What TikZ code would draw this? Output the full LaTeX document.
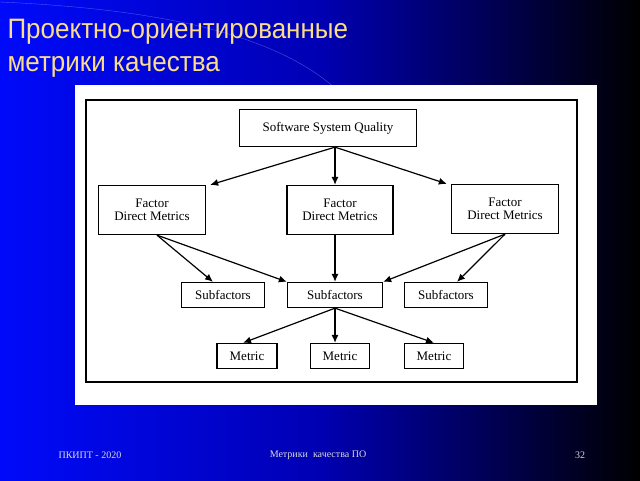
\documentclass[tikz,border=0pt]{standalone}
\usepackage{fontspec}
\setmainfont{Liberation Serif}
\newfontfamily\titlefont{Liberation Sans}
\usetikzlibrary{arrows.meta}
\definecolor{slideblue}{RGB}{0,10,250}
\definecolor{titleyellow}{RGB}{250,220,140}
\begin{document}
\begin{tikzpicture}[
  x=1pt, y=-1pt,
  box/.style={draw, line width=1.3pt, rectangle, inner sep=0pt, font=\fontsize{13}{13}\selectfont, align=center},
  arrow/.style={-{Latex[length=8pt,width=7pt]}, line width=1.2pt, color=black}
]
    % Slide background
    \useasboundingbox (0,0) rectangle (640,480);
    \shade[left color=slideblue, right color=black, middle color=blue!70!black] (0,0) rectangle (640,480);
    \draw[blue!40, opacity=0.5] (0,2) .. controls (180,10) and (280,40) .. (335,88);

    % Title
    \node (title) at (4,48) [anchor=west, align=left, font=\titlefont\fontsize{26}{33}\selectfont, text=titleyellow] {\scalebox{1}[1.08]{Проектно-ориентированные}\\\scalebox{1}[1.08]{метрики качества}};

    % Picture frame
    \fill[white] (75,85) rectangle (597,405);
    \draw[line width=2.5pt] (86,100) rectangle (577,382);

    % Top
    \node (ssq) at (328,128) [box, minimum width=177, minimum height=37] {Software System Quality};

    % Factors
    \node (fl) at (152,210) [box, minimum width=107, minimum height=49] {Factor\\Direct Metrics};
    \node (fm) at (340,210) [box, minimum width=106, minimum height=49] {Factor\\Direct Metrics};
    \node (fr) at (505,209) [box, minimum width=107, minimum height=49] {Factor\\Direct Metrics};

    % Subfactors
    \node (sl) at (223,295) [box, minimum width=83, minimum height=25] {Subfactors};
    \node (sm) at (335,295) [box, minimum width=95, minimum height=25] {Subfactors};
    \node (sr) at (446,295) [box, minimum width=83, minimum height=25] {Subfactors};

    % Metrics
    \node (ml) at (247,356) [box, minimum width=60, minimum height=25] {Metric};
    \node (mm) at (340,356) [box, minimum width=59, minimum height=25] {Metric};
    \node (mr) at (434,356) [box, minimum width=59, minimum height=25] {Metric};

    % Footer
    \node (place) at (55,455) [anchor=west, font=\fontsize{10}{10}\selectfont, text=gray!30] {ПКИПТ - 2020};
    \node (topic) at (318,455) [font=\fontsize{10}{10}\selectfont, text=gray!30] {Метрики \ качества ПО};
    \node (page) at (580,455) [font=\fontsize{10}{10}\selectfont, text=gray!30] {32};

    % Arrows
    \draw[arrow] ([xshift=7]ssq.south) -- ([xshift=4]fl.north east);
    \draw[arrow] ([xshift=7]ssq.south) -- ([xshift=-5]fm.north);
    \draw[arrow] ([xshift=7]ssq.south) -- ([xshift=-4]fr.north west);
    \draw[arrow] ([xshift=5]fl.south) -- ([xshift=-10]sl.north);
    \draw[arrow] ([xshift=5]fl.south) -- (sm.north west);
    \draw[arrow] ([xshift=-5]fm.south) -- (sm.north);
    \draw[arrow] (fr.south) -- (sm.north east);
    \draw[arrow] (fr.south) -- ([xshift=11]sr.north);
    \draw[arrow] (sm.south) -- ([xshift=-4]ml.north);
    \draw[arrow] (sm.south) -- ([xshift=-5]mm.north);
    \draw[arrow] (sm.south) -- (mr.north);
\end{tikzpicture}
\end{document}
